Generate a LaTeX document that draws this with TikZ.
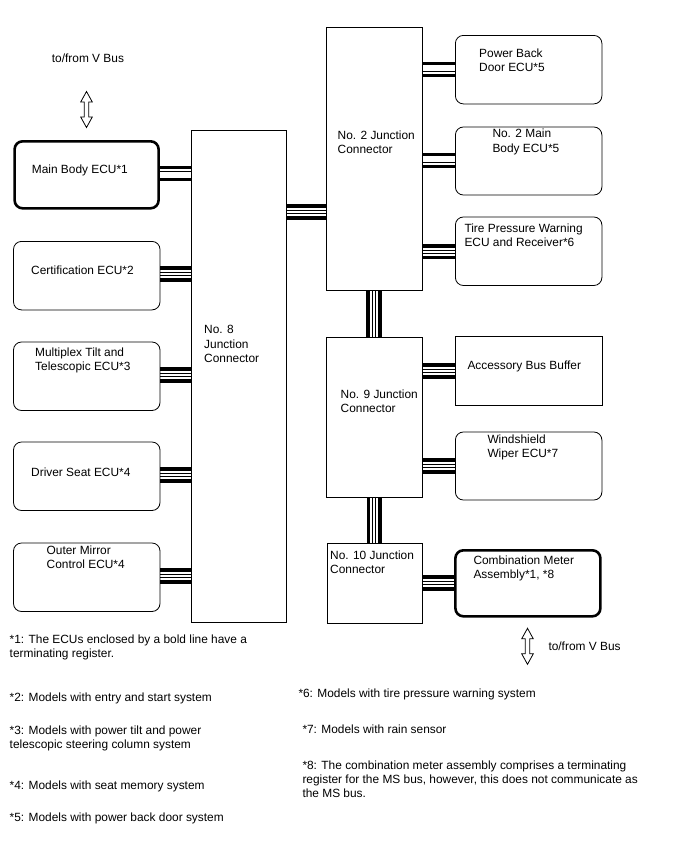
\documentclass[tikz,border=0pt]{standalone}
\usepackage{fontspec}
\setmainfont{Liberation Sans}
\usetikzlibrary{backgrounds}
\begin{document}
\begin{tikzpicture}[x=1pt,y=-1pt,
  ecu/.style={draw, rounded corners=8pt, line width=0.8pt, minimum width=146.5pt, minimum height=68.5pt, inner sep=0pt, outer sep=0pt, anchor=north west},
  ecubold/.style={ecu, line width=2.6pt},
  plainbox/.style={ecu, rounded corners=0pt},
  junc/.style={draw, line width=0.8pt, inner sep=0pt, outer sep=0pt, anchor=north west},
  lbl/.style={anchor=north west, inner sep=0pt, align=left, font=\fontsize{11.9}{14.4}\selectfont},
  fn/.style={anchor=north west, inner sep=0pt, align=left, font=\fontsize{11.9}{14}\selectfont},
  bus/.style={postaction={draw,line width=15.4pt}, postaction={draw,white,line width=8.2pt},
              postaction={draw,line width=4pt}, postaction={draw,white,line width=2.2pt}},
  pics/vbusarrow/.style={code={\draw[line width=0.8pt, line join=miter]
     (0,-18) -- (5.8,-7.5) -- (2.3,-7.5) -- (2.3,7.5) -- (5.8,7.5) -- (0,18)
     -- (-5.8,7.5) -- (-2.3,7.5) -- (-2.3,-7.5) -- (-5.8,-7.5) -- cycle;}}
]
\useasboundingbox (0,0) rectangle (688,852);

% left ECUs
\node[ecubold, minimum width=144pt, minimum height=67pt] (mb) at (14.6,141.3) {};
\node[ecu] (cert) at (13.5,241.4) {};
\node[ecu] (tilt) at (13.5,342) {};
\node[ecu] (seat) at (13.5,442) {};
\node[ecu] (mirr) at (13.5,543) {};

% junction connectors
\node[junc, minimum width=95pt, minimum height=492pt] (j8) at (191,130) {};
\node[junc, minimum width=96.3pt, minimum height=263pt] (j2) at (325.9,27) {};
\node[junc, minimum width=96.3pt, minimum height=160pt] (j9) at (325.9,336.9) {};
\node[junc, minimum width=95.3pt, minimum height=80.8pt] (j10) at (327,543) {};

% right ECUs
\node[ecu] (pbd) at (455.4,35.4) {};
\node[ecu, minimum height=68pt] (mb2) at (455.4,127) {};
\node[ecu] (tire) at (455.4,217) {};
\node[plainbox] (acc) at (455.4,336.4) {};
\node[ecu, minimum height=68pt] (wip) at (455.4,432) {};
\node[ecubold, minimum width=145pt, minimum height=66pt] (cmb) at (455.4,550.3) {};

% bus connectors
\begin{scope}[on background layer]
\path[bus] (mb.east |- 0,173.4) -- (j8.west |- 0,173.4);
\path[bus] (cert.east |- 0,274) -- (j8.west |- 0,274);
\path[bus] (tilt.east |- 0,375) -- (j8.west |- 0,375);
\path[bus] (seat.east |- 0,475) -- (j8.west |- 0,475);
\path[bus] (mirr.east |- 0,576) -- (j8.west |- 0,576);
\path[bus] (j8.east |- 0,212) -- (j2.west |- 0,212);
\path[bus] (j2.east |- 0,69.5) -- (pbd.west |- 0,69.5);
\path[bus] (j2.east |- 0,160.5) -- (mb2.west |- 0,160.5);
\path[bus] (j2.east |- 0,251.7) -- (tire.west |- 0,251.7);
\path[bus] (j2.south -| 373.8,0) -- (j9.north -| 373.8,0);
\path[bus] (j9.east |- 0,371) -- (acc.west |- 0,371);
\path[bus] (j9.east |- 0,466) -- (wip.west |- 0,466);
\path[bus] (j9.south -| 374.2,0) -- (j10.north -| 374.2,0);
\path[bus] (j10.east |- 0,583) -- (cmb.west |- 0,583);
\end{scope}

% V bus arrows
\pic (arrA) at (86.5,109.5) {vbusarrow};
\pic (arrB) at (527.5,646.3) {vbusarrow};
\node[lbl] (vbA) at (51.7,53.3) {to/from V Bus};
\node[lbl] (vbB) at (548.3,641.3) {to/from V Bus};

% box texts
\node[lbl] (tmb) at (31.7,164.8) {Main Body ECU*1};
\node[lbl] (tcert) at (31,265.8) {Certification ECU*2};
\node[lbl] (ttilt) at (35,347.3) {Multiplex Tilt and\\Telescopic ECU*3};
\node[lbl] (tseat) at (31,467.3) {Driver Seat ECU*4};
\node[lbl] (tmirr) at (46.5,545.3) {Outer Mirror\\Control ECU*4};
\node[lbl] (tj8) at (204,325.3) {No. 8\\Junction\\Connector};
\node[lbl] (tj2) at (337.5,130.3) {No. 2 Junction\\Connector};
\node[lbl] (tj9) at (340.5,389.3) {No. 9 Junction\\Connector};
\node[lbl] (tj10) at (330,550.3) {No. 10 Junction\\Connector};
\node[lbl] (tpbd) at (479,48.6) {Power Back\\Door ECU*5};
\node[lbl] (tmb2) at (492.3,129) {No. 2 Main\\Body ECU*5};
\node[lbl] (ttire) at (464.3,223.6) {Tire Pressure Warning\\ECU and Receiver*6};
\node[lbl] (tacc) at (467.3,360.6) {Accessory Bus Buffer};
\node[lbl] (twip) at (487.3,434.6) {Windshield\\Wiper ECU*7};
\node[lbl] (tcmb) at (473.3,555.3) {Combination Meter\\Assembly*1, *8};

% footnotes
\node[fn] (f1) at (9.5,634.6) {*1: The ECUs enclosed by a bold line have a\\terminating register.};
\node[fn] (f2) at (9.5,693) {*2: Models with entry and start system};
\node[fn] (f3) at (9.5,725.3) {*3: Models with power tilt and power\\telescopic steering column system};
\node[fn] (f4) at (9.5,780.3) {*4: Models with seat memory system};
\node[fn] (f5) at (9.5,813) {*5: Models with power back door system};
\node[fn] (f6) at (298.3,688.6) {*6: Models with tire pressure warning system};
\node[fn] (f7) at (302.3,724.6) {*7: Models with rain sensor};
\node[fn] (f8) at (302.3,760.6) {*8: The combination meter assembly comprises a terminating\\register for the MS bus, however, this does not communicate as\\the MS bus.};
\end{tikzpicture}
\end{document}
